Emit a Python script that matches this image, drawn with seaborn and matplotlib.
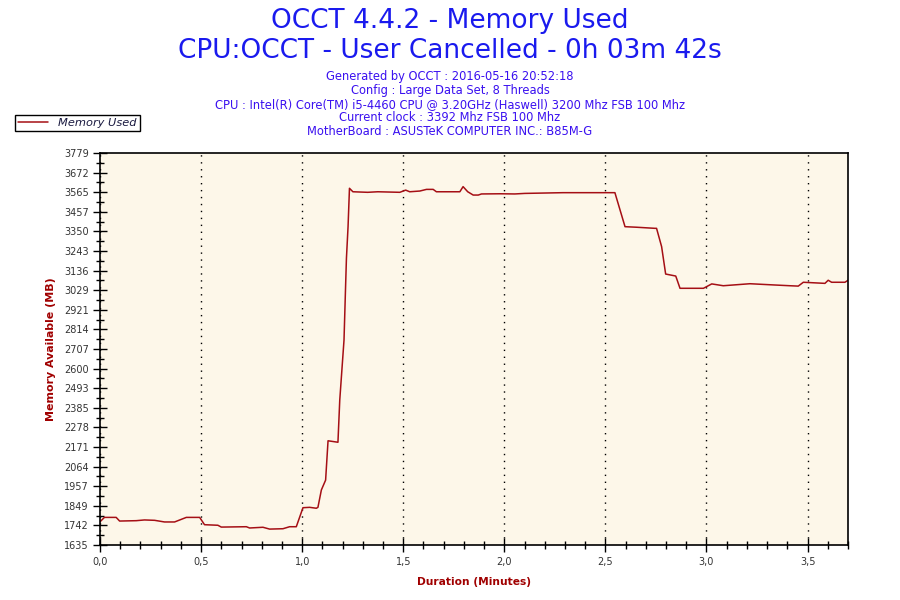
import matplotlib
matplotlib.use("Agg")
import matplotlib.pyplot as plt
import seaborn as sns
import pandas as pd

# data
minutes = [0.000, 0.022, 0.080, 0.097, 0.179, 0.220, 0.270, 0.319, 0.369, 0.427,
           0.493, 0.517, 0.583, 0.600, 0.724, 0.740, 0.806, 0.839, 0.905, 0.938,
           0.971, 1.004, 1.037, 1.070, 1.078, 1.095, 1.116, 1.128, 1.177, 1.186,
           1.207, 1.214, 1.219, 1.227, 1.234, 1.251, 1.324, 1.374, 1.483, 1.512,
           1.532, 1.582, 1.615, 1.648, 1.664, 1.780, 1.796, 1.819, 1.846, 1.871,
           1.887, 1.978, 2.052, 2.101, 2.291, 2.399, 2.547, 2.597, 2.654, 2.745,
           2.753, 2.778, 2.798, 2.848, 2.869, 2.985, 3.026, 3.083, 3.215, 3.339,
           3.413, 3.454, 3.479, 3.586, 3.602, 3.619, 3.685, 3.700]
memory_mb = [1762, 1786, 1786, 1766, 1768, 1772, 1770, 1761, 1761, 1786,
             1786, 1746, 1743, 1733, 1735, 1728, 1732, 1722, 1724, 1735,
             1735, 1839, 1841, 1836, 1841, 1936, 1990, 2205, 2197, 2428,
             2756, 3020, 3203, 3376, 3586, 3567, 3564, 3567, 3564, 3576,
             3567, 3571, 3580, 3580, 3567, 3567, 3595, 3567, 3549, 3549,
             3555, 3556, 3555, 3558, 3562, 3562, 3562, 3376, 3373, 3367,
             3367, 3267, 3117, 3106, 3039, 3039, 3063, 3053, 3064, 3057,
             3053, 3051, 3072, 3066, 3083, 3072, 3072, 3083]

y_ticks = [1635, 1742.2, 1849.4, 1956.6, 2063.8, 2171, 2278.2, 2385.4, 2492.6,
           2599.8, 2707, 2814.2, 2921.4, 3028.6, 3135.8, 3243, 3350.2, 3457.4,
           3564.6, 3671.8, 3779]
y_labels = ["1635", "1742", "1849", "1957", "2064", "2171", "2278", "2385", "2493",
            "2600", "2707", "2814", "2921", "3029", "3136", "3243", "3350", "3457",
            "3565", "3672", "3779"]
x_ticks = [0.0, 0.5, 1.0, 1.5, 2.0, 2.5, 3.0, 3.5]
x_labels = ["0,0", "0,5", "1,0", "1,5", "2,0", "2,5", "3,0", "3,5"]

title_lines = ["OCCT 4.4.2 - Memory Used",
               "CPU:OCCT - User Cancelled - 0h 03m 42s"]
info_lines = ["Generated by OCCT : 2016-05-16 20:52:18",
              "Config : Large Data Set, 8 Threads",
              "CPU : Intel(R) Core(TM) i5-4460 CPU @ 3.20GHz (Haswell) 3200 Mhz FSB 100 Mhz",
              "Current clock : 3392 Mhz FSB 100 Mhz",
              "MotherBoard : ASUSTeK COMPUTER INC.: B85M-G"]

df = pd.DataFrame({"Duration": minutes, "Memory Used": memory_mb})

sns.set_style("ticks")
plt.rcParams["font.family"] = ["DejaVu Sans"]

line_color = "#a50f15"
label_color = "#a00000"

fig = plt.figure(figsize=(9, 6), dpi=100)
ax = fig.add_axes([100 / 900, 1 - 545 / 600, 748 / 900, 392 / 600])
ax.set_facecolor("#fdf7e9")

sns.lineplot(data=df, x="Duration", y="Memory Used", ax=ax, color=line_color,
             linewidth=1.1, label="Memory Used", legend=False)

ax.set_xlim(0, 3.7)
ax.set_ylim(1635, 3779)
ax.set_xticks(x_ticks)
ax.set_xticklabels(x_labels)
ax.set_xticks([i / 10 for i in range(38)], minor=True)
ax.set_yticks(y_ticks)
ax.set_yticklabels(y_labels)
ax.set_yticks([(a + b) / 2 for a, b in zip(y_ticks[:-1], y_ticks[1:])], minor=True)

ax.tick_params(axis="both", which="major", direction="inout", length=10, width=1,
               labelsize=7, labelcolor="#333333", color="black")
ax.tick_params(axis="both", which="minor", direction="inout", length=6, width=1,
               color="black")
ax.tick_params(axis="x", pad=4)
ax.tick_params(axis="y", pad=3)

for s in ax.spines.values():
    s.set_color("black")
    s.set_linewidth(1.2)

ax.grid(axis="x", which="major", linestyle=(0, (1, 4)), color="black", linewidth=1.0)
ax.grid(axis="y", visible=False)

ax.set_xlabel("Duration (Minutes)", color=label_color, fontsize=7.7, fontweight="bold", labelpad=7)
ax.set_ylabel("Memory Available (MB)", color=label_color, fontsize=7.9, fontweight="bold", labelpad=6)

# titles
fig.text(0.5, 1 - 21.5 / 600, title_lines[0], ha="center", va="center", fontsize=19, color="#1a1aee")
fig.text(0.5, 1 - 51 / 600, title_lines[1], ha="center", va="center", fontsize=19, color="#1a1aee")
for i, line in enumerate(info_lines):
    fig.text(0.5, 1 - (76.5 + i * 13.8) / 600, line, ha="center", va="center",
             fontsize=8.3, color="#3a10f0")

# legend box
fig.legend(handles=ax.get_lines(), labels=["Memory Used"], loc="upper left",
           bbox_to_anchor=(15 / 900, 1 - 114.5 / 600), frameon=True, fancybox=False,
           edgecolor="black", framealpha=1, borderpad=0.28, borderaxespad=0,
           handlelength=2.6, handletextpad=0.9,
           prop={"style": "italic", "size": 8.2})
leg = fig.legends[0]
leg.get_frame().set_linewidth(1.0)
for t in leg.get_texts():
    t.set_color("#1a1a40")

fig.savefig("out.png", dpi=100, facecolor="white")
